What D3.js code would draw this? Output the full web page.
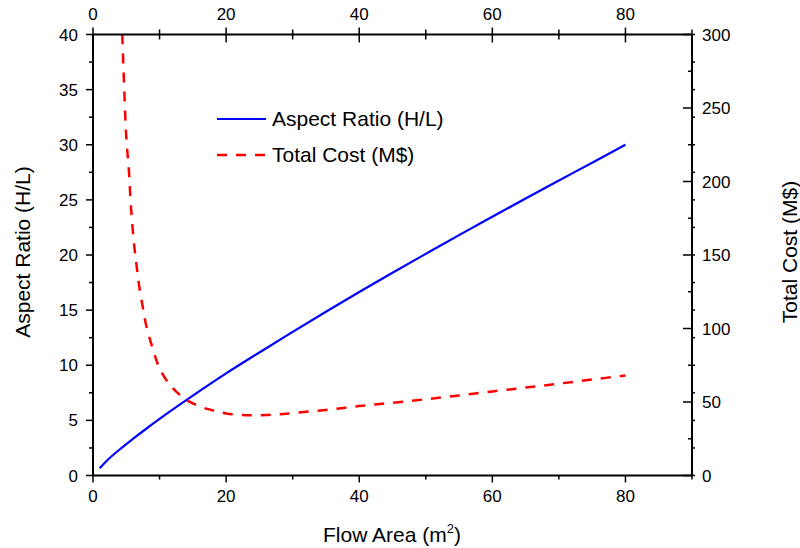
<!DOCTYPE html>
<html><head><meta charset="utf-8">
<script src="https://cdn.jsdelivr.net/npm/d3@7"></script>
<style>body{margin:0;background:#fff}svg{display:block}text{font-family:"Liberation Sans",Arial,sans-serif;fill:#000}</style>
</head><body><svg id="c" width="800" height="548"></svg>
<script>
const ratioX = [1,2,4,6,8,10,15,20,25,30,35,40,45,50,55,60,65,70,75,80];
const ratioY = [0.66,1.3,2.36,3.32,4.24,5.13,7.24,9.26,11.16,13.03,14.85,16.64,18.39,20.1,21.8,23.47,25.13,26.76,28.37,30.0];
const costX = [4.4,4.7,5.0,5.4,5.7,6.2,6.6,7.0,7.5,8,9,10,11.5,13,14,15.5,17,18.5,20,22,24,26,28,30,35,40,45,50,55,60,65,70,75,80];
const costY = [300,262,230,207,183,156,141,127,114,102,86,73,62,55,51.5,48,45.5,43.8,42.2,41.3,41.0,41.1,41.7,42.5,44.6,47.2,49.5,51.9,54.5,57.2,59.8,62.5,65.3,68.0];
const xTicks = [0,20,40,60,80];
const yLeftTicks = [0,5,10,15,20,25,30,35,40];
const yRightTicks = [0,50,100,150,200,250,300];
const legendLabels = ["Aspect Ratio (H/L)","Total Cost (M$)"];

const svg = d3.select("#c");
const L=93,R=692,T=34.5,B=475.5;
const x = d3.scaleLinear().domain([0,90]).range([L,R]);
const yl = d3.scaleLinear().domain([0,40]).range([B,T]);
const yr = d3.scaleLinear().domain([0,300]).range([B,T]);

const g = svg.append("g");
g.append("path").datum(ratioX.map((v,i)=>[v,ratioY[i]]))
 .attr("fill","none").attr("stroke","#0000ff").attr("stroke-width",2.2)
 .attr("d",d3.line().x(d=>x(d[0])).y(d=>yl(d[1])).curve(d3.curveMonotoneX));
g.append("path").datum(costX.map((v,i)=>[v,costY[i]]))
 .attr("fill","none").attr("stroke","#ff0000").attr("stroke-width",2.5).attr("stroke-dasharray","10,9")
 .attr("d",d3.line().x(d=>x(d[0])).y(d=>yr(d[1])).curve(d3.curveCatmullRom.alpha(0.5)));

const ax = svg.append("g").attr("stroke","#000");
function tick(x1,y1,x2,y2,w){ax.append("line").attr("x1",x1).attr("y1",y1).attr("x2",x2).attr("y2",y2).attr("stroke-width",w||1.5);}
tick(L,T,R,T,2);tick(L,B,R,B,2);tick(L,T,L,B,2);tick(R,T,R,B,2);
d3.range(0,91,10).forEach(v=>{
  const major = v%20===0;
  const px=x(v);
  tick(px,B,px,B+(major?7:4));
  tick(px,T-(major?7:5),px,T+(major?8:5));
});
d3.range(0,40.1,2.5).forEach(v=>{
  const major = v%5===0;
  const py=yl(v);
  tick(L,py,L-(major?7:4),py);
  tick(R,py,R+3,py);
});
d3.range(0,301,25).forEach(v=>{
  const major=v%50===0;
  const py=yr(v);
  tick(R,py,R-(major?9:4),py);
});
const fs=17;
svg.selectAll(".xb").data(xTicks).enter().append("text").attr("x",d=>x(d)).attr("y",502).attr("text-anchor","middle").attr("font-size",fs).text(d=>d);
svg.selectAll(".xt").data(xTicks).enter().append("text").attr("x",d=>x(d)).attr("y",20).attr("text-anchor","middle").attr("font-size",fs).text(d=>d);
svg.selectAll(".yl").data(yLeftTicks).enter().append("text").attr("x",78).attr("y",d=>yl(d)+6).attr("text-anchor","end").attr("font-size",fs).text(d=>d);
svg.selectAll(".yr").data(yRightTicks).enter().append("text").attr("x",702).attr("y",d=>yr(d)+6).attr("text-anchor","start").attr("font-size",fs).text(d=>d);

const tfs=21;
const xt = svg.append("text").attr("x",392).attr("y",542).attr("text-anchor","middle").attr("font-size",tfs);
xt.append("tspan").text("Flow Area (m");
xt.append("tspan").attr("font-size",13).attr("dy",-9).text("2");
xt.append("tspan").attr("dy",9).text(")");
svg.append("text").attr("transform","translate(30,252) rotate(-90)").attr("text-anchor","middle").attr("font-size",tfs).text(legendLabels[0]);
svg.append("text").attr("transform","translate(797,252) rotate(-90)").attr("text-anchor","middle").attr("font-size",tfs).text(legendLabels[1]);

const lg = svg.append("g");
lg.append("line").attr("x1",217).attr("x2",266).attr("y1",119).attr("y2",119).attr("stroke","#0000ff").attr("stroke-width",2.2);
lg.append("line").attr("x1",217).attr("x2",266).attr("y1",155).attr("y2",155).attr("stroke","#ff0000").attr("stroke-width",2.5).attr("stroke-dasharray","10,9");
lg.append("text").attr("x",272).attr("y",126).attr("font-size",tfs).text(legendLabels[0]);
lg.append("text").attr("x",272).attr("y",162).attr("font-size",tfs).text(legendLabels[1]);
</script></body></html>
